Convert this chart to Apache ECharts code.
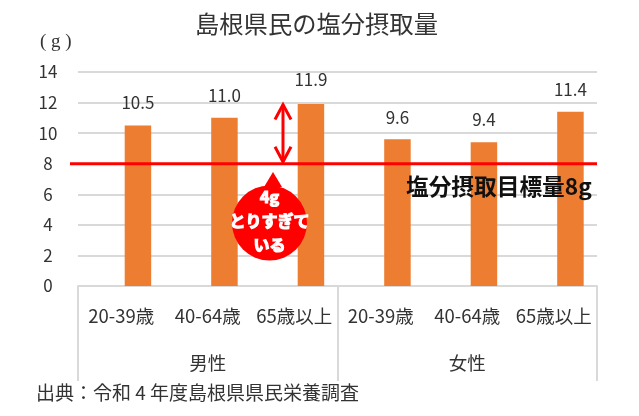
<!DOCTYPE html>
<html lang="ja">

<head>
    <meta charset="UTF-8">
    <title>島根県民の塩分摂取量</title>
    <script src="https://cdn.jsdelivr.net/npm/echarts@6/dist/echarts.min.js"></script>
    <style>
        body {
            margin: 0;
            background: #fff;
        }

        #root {
            width: 639px;
            height: 416px;
        }
    </style>
</head>

<body>

    <div id="root"></div>
    <script>

        var ageGroups = ['20-39歳', '40-64歳', '65歳以上', '20-39歳', '40-64歳', '65歳以上'];
        var sexGroups = ['男性', '女性'];
        var saltIntake = [10.5, 11.0, 11.9, 9.6, 9.4, 11.4];
        var labelGaps = [14, 14, 16, 13, 14, 14];
        var emptySlot = [null, null, null, null, null, null];
        var targetValue = 8;
        var excessTop = 12;

        var fontName = '"Noto Sans CJK JP", "Noto Sans", sans-serif';
        var gridColor = '#d9d9d9';
        var textColor = '#333333';
        var red = '#ff0000';

        var mychart = echarts.init(document.getElementById('root'));

        mychart.setOption({
            animation: false,
            textStyle: { fontFamily: fontName },
            title: [{
                text: '島根県民の塩分摂取量',
                left: 195,
                top: 12,
                padding: 0,
                textStyle: { fontFamily: fontName, fontSize: 24.3, fontWeight: 'normal', color: textColor }
            }, {
                text: '出典：令和 4 年度島根県県民栄養調査',
                left: 36,
                top: 383,
                padding: 0,
                textStyle: { fontFamily: fontName, fontSize: 19, fontWeight: 'normal', color: textColor }
            }, {
                text: '( g )',
                left: 40,
                top: 33,
                padding: 0,
                textStyle: { fontFamily: 'Liberation Serif', fontSize: 19, fontWeight: 'normal', color: textColor }
            }],
            grid: { left: 78, right: 42, top: 72, bottom: 130 },
            xAxis: [{
                type: 'category',
                data: ageGroups,
                axisLine: { lineStyle: { color: gridColor, width: 2 } },
                axisTick: { show: false },
                axisLabel: { margin: 21, fontSize: 18.5, color: textColor, interval: 0, fontFamily: fontName }
            }, {
                type: 'category',
                position: 'bottom',
                data: sexGroups,
                axisLine: { show: false },
                axisTick: { show: true, length: 95, lineStyle: { color: gridColor, width: 2 } },
                axisLabel: { margin: 68, fontSize: 18.5, color: textColor, fontFamily: fontName }
            }],
            yAxis: {
                type: 'value',
                min: 0,
                max: 14,
                interval: 2,
                axisLine: { show: false },
                axisTick: { show: false },
                axisLabel: { margin: 30, align: 'center', fontSize: 17, color: textColor, fontFamily: fontName },
                splitLine: { lineStyle: { color: gridColor, width: 2 } }
            },
            series: [{
                // 左側の空きスロット
                type: 'bar',
                data: emptySlot,
                barWidth: 26.5,
                barGap: '26%',
                silent: true
            }, {
                type: 'bar',
                data: saltIntake.map(function (v, i) {
                    return { value: v, label: { distance: labelGaps[i] } };
                }),
                barWidth: 26.5,
                itemStyle: { color: '#ed7d31' },
                label: {
                    show: true,
                    position: 'top',
                    fontSize: 17,
                    color: textColor,
                    fontFamily: fontName,
                    formatter: function (p) {
                        return p.value.toFixed(1);
                    }
                }
            }]
        });

        // 注釈は軸の値から位置を取る
        var yTarget = mychart.convertToPixel({ yAxisIndex: 0 }, targetValue);
        var yTop = mychart.convertToPixel({ yAxisIndex: 0 }, excessTop);
        var arrowX = 283;
        var arrowLine = { stroke: red, lineWidth: 3, fill: null };

        mychart.setOption({
            graphic: [{
                type: 'line',
                z: 50,
                shape: { x1: 70, y1: yTarget, x2: 597, y2: yTarget },
                style: { stroke: red, lineWidth: 3 }
            }, {
                type: 'line',
                z: 50,
                shape: { x1: arrowX, y1: yTop + 2, x2: arrowX, y2: yTarget - 2 },
                style: arrowLine
            }, {
                type: 'polyline',
                z: 50,
                shape: { points: [[arrowX - 8, yTop + 17], [arrowX, yTop + 2], [arrowX + 8, yTop + 17]] },
                style: arrowLine
            }, {
                type: 'polyline',
                z: 50,
                shape: { points: [[arrowX - 8, yTarget - 17], [arrowX, yTarget - 2], [arrowX + 8, yTarget - 17]] },
                style: arrowLine
            }, {
                type: 'polygon',
                z: 51,
                shape: { points: [[264, 187], [273, 172], [282, 187]] },
                style: { fill: red }
            }, {
                type: 'circle',
                z: 51,
                shape: { cx: 269.5, cy: 223, r: 37.5 },
                style: { fill: red }
            }, {
                type: 'text',
                z: 52,
                x: 269.5,
                y: 221,
                style: {
                    text: '4g\nとりすぎて\nいる',
                    fill: '#fff',
                    font: 'bold 16px ' + fontName,
                    lineHeight: 24,
                    align: 'center',
                    verticalAlign: 'middle',
                    stroke: '#fff',
                    lineWidth: 1.2
                }
            }, {
                type: 'text',
                z: 52,
                x: 406,
                y: 186,
                style: {
                    text: '塩分摂取目標量8g',
                    fill: '#111',
                    font: 'bold 22.7px ' + fontName,
                    align: 'left',
                    verticalAlign: 'middle'
                }
            }]
        });

    </script>

</body>

</html>
